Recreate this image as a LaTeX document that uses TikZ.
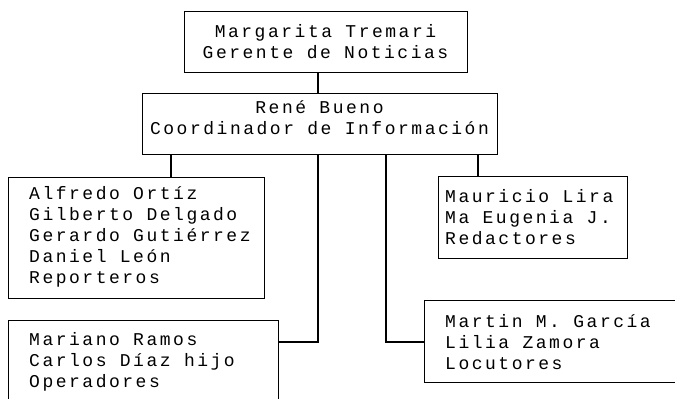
\documentclass[tikz,border=0pt]{standalone}
\usepackage{fontspec}
\newfontfamily\dotfont[LetterSpace=14]{Liberation Mono}
\begin{document}
\begin{tikzpicture}[x=1pt,y=-1pt,
  box/.style={draw, line width=1.2pt, rectangle, inner sep=0pt, anchor=north west},
  txt/.style={font=\dotfont\fontsize{18}{21}\selectfont, inner sep=0pt, align=left, anchor=west},
  ctxt/.style={font=\dotfont\fontsize{18}{21}\selectfont, inner sep=0pt, align=center, anchor=center},
  conn/.style={line width=1.2pt}]
\useasboundingbox (0,0) rectangle (675,399);
% boxes
\node[box, minimum width=283pt, minimum height=61pt] (top) at (184,11) {};
\node[box, minimum width=355pt, minimum height=61pt] (coord) at (142,93) {};
\node[box, minimum width=256pt, minimum height=121pt] (rep) at (8,177) {};
\node[box, minimum width=189pt, minimum height=82pt] (red) at (438,176) {};
\node[box, minimum width=270pt, minimum height=90pt] (op) at (8,320) {};
\node[box, minimum width=266pt, minimum height=82pt] (loc) at (424,300) {};
% texts
\node[ctxt] (ttop) at (325.5,41.5) {Margarita Tremari\\Gerente de Noticias};
\node[ctxt] (tcoord) at (319.5,117.5) {René Bueno\\Coordinador de Información};
\node[txt] (trep) at (29,236.5) {Alfredo Ortíz\\Gilberto Delgado\\Gerardo Gutiérrez\\Daniel León\\Reporteros};
\node[txt] (top2) at (29,362) {Mariano Ramos\\Carlos Díaz hijo\\Operadores};
\node[txt] (tred) at (445,217) {Mauricio Lira\\Ma Eugenia J.\\Redactores};
\node[txt] (tloc) at (445,342) {Martin M. García\\Lilia Zamora\\Locutores};
% connector anchors
\coordinate (j1) at (318,0);
\coordinate (j2) at (171,0);
\coordinate (j3) at (318,0);
\coordinate (j4) at (386,0);
\coordinate (j5) at (478,0);
\coordinate (k1) at (0,342);
% connectors
\draw[conn] (top.south -| j1) -- (coord.north -| j1);
\draw[conn] (coord.south -| j2) -- (rep.north -| j2);
\draw[conn] (coord.south -| j3) |- (op.east |- k1);
\draw[conn] (coord.south -| j4) |- (loc.west |- k1);
\draw[conn] (coord.south -| j5) -- (red.north -| j5);
\end{tikzpicture}
\end{document}
